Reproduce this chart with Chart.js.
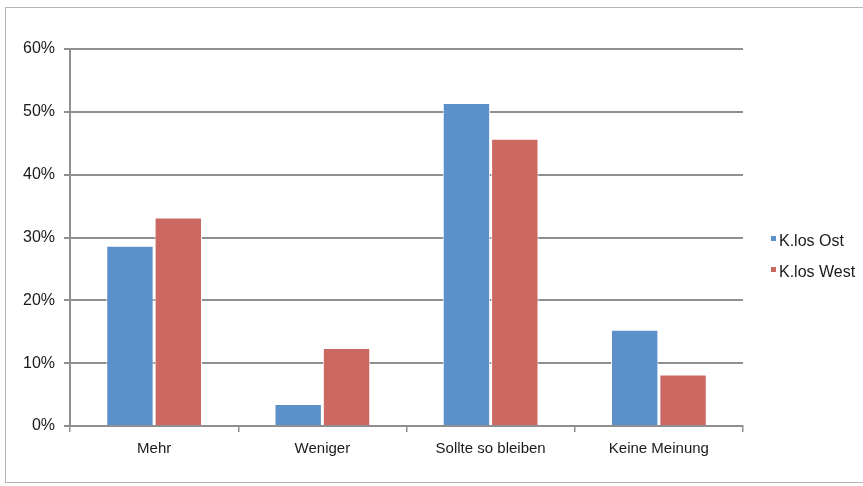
<!DOCTYPE html>
<html>
<head>
<meta charset="utf-8">
<script src="https://cdn.jsdelivr.net/npm/chart.js@4/dist/chart.umd.min.js"></script>
<style>
  body { margin: 0; background: #fff; }
  #wrap { position: relative; width: 863px; height: 486px; }
  #frame { position: absolute; left: 5px; top: 7px; right: 0; bottom: 3px;
           border: 1px solid #b4b4b4; border-right: none; }
  #legend { position: absolute; left: 771px; top: 231px;
            font: 16px "Liberation Sans", Arial, sans-serif; color: #1a1a1a; }
  .item { height: 31px; line-height: 20px; white-space: nowrap; }
  .sw { display: inline-block; width: 5px; height: 5px; margin-right: 3px; vertical-align: 5px; }
</style>
</head>
<body>
<div id="wrap">
  <div id="frame"></div>
  <canvas id="myChart" width="863" height="486"></canvas>
  <div id="legend"></div>
</div>
<script>
const categories = ["Mehr", "Weniger", "Sollte so bleiben", "Keine Meinung"];
const seriesNames = ["K.los Ost", "K.los West"];
const ostValues = [28.7, 3.5, 51.4, 15.3];
const westValues = [33.2, 12.4, 45.7, 8.2];
const yTicks = [0, 10, 20, 30, 40, 50, 60];

const blue = "#5b90cb";
const red = "#cc6862";
const gray = "#8f8f8f";

const create_chart = () => {
  let chart = document.getElementById("myChart")
  new Chart(chart, {
    type: "bar",
    data: {
      labels: categories,
      datasets: [{
        label: seriesNames[0],
        data: ostValues,
        backgroundColor: blue,
        borderColor: "rgba(255,255,255,0.9)",
        borderWidth: 1,
        categoryPercentage: 0.575,
        barPercentage: 0.98
      }, {
        label: seriesNames[1],
        data: westValues,
        backgroundColor: red,
        borderColor: "rgba(255,255,255,0.9)",
        borderWidth: 1,
        categoryPercentage: 0.575,
        barPercentage: 0.98
      }]
    },
    options: {
      responsive: false,
      animation: false,
      layout: { padding: { left: 0, top: 49, right: 120, bottom: 0 } },
      plugins: { legend: { display: false }, tooltip: { enabled: false } },
      scales: {
        x: {
          afterFit: (s) => { s.height = 60 },
          grid: { offset: true, drawOnChartArea: false, drawTicks: true, tickLength: 6, color: gray, lineWidth: 1.5 },
          border: { color: gray, width: 2 },
          ticks: { padding: 8, color: "#1a1a1a", font: { family: "Liberation Sans", size: 15 } }
        },
        y: {
          min: 0,
          max: yTicks[yTicks.length - 1],
          afterFit: (s) => { s.width = 70 },
          afterBuildTicks: (s) => { s.ticks = yTicks.map(v => ({ value: v })) },
          grid: { color: gray, lineWidth: 2, tickLength: 6 },
          border: { color: gray, width: 2 },
          ticks: {
            padding: 9,
            color: "#1a1a1a",
            font: { family: "Liberation Sans", size: 16 },
            callback: (v) => v + "%"
          }
        }
      }
    }
  });

  let legend = document.getElementById("legend")
  let colors = [blue, red]
  seriesNames.forEach((name, i) => {
    let row = document.createElement("div")
    row.className = "item"
    row.innerHTML = '<span class="sw" style="background:' + colors[i] + '"></span>' + name
    legend.appendChild(row)
  })
}
create_chart()
</script>
</body>
</html>
